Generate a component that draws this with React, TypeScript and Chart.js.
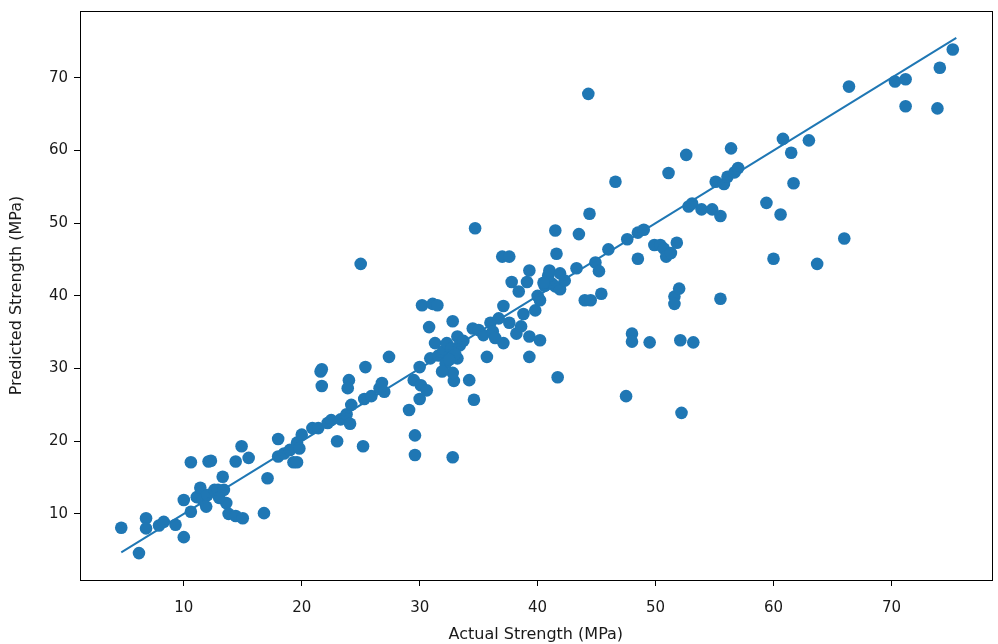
import React, { useEffect, useRef } from "react";
import { Chart, registerables } from "chart.js";

Chart.register(...registerables);

const actual: number[] = [
  4.7, 6.2, 6.8, 6.8, 7.9, 8.3, 9.3, 10.0, 10.0, 10.6, 10.6, 11.1, 11.4, 11.6, 12.0, 12.1, 12.3, 12.6, 12.9, 13.3,
  13.4, 13.6, 13.8, 14.4, 15.0, 14.4, 14.9, 15.5, 16.8, 17.1, 18.0, 18.0, 18.5, 19.0, 19.3, 19.6, 19.6, 20.0, 20.9, 21.4,
  21.6, 21.7, 21.7, 22.2, 22.5, 23.0, 23.3, 23.8, 24.0, 23.9, 24.1, 24.2, 25.0, 25.2, 25.3, 25.4, 25.9, 26.6, 26.8, 27.4,
  29.1, 29.5, 29.6, 29.6, 30.0, 30.0, 30.1, 30.2, 30.6, 30.8, 30.9, 31.1, 31.5, 31.3, 31.6, 32.0, 32.2, 32.3, 32.7, 32.8,
  32.8, 32.9, 32.8, 33.2, 33.2, 33.4, 33.7, 34.2, 34.5, 34.7, 34.6, 35.0, 35.4, 35.7, 36.0, 36.2, 36.7, 37.0, 37.6, 37.1,
  37.1, 37.6, 37.8, 38.2, 38.4, 38.6, 39.1, 39.3, 39.3, 39.3, 39.8, 40.0, 40.2, 40.2, 40.6, 40.9, 41.0, 41.2, 41.5, 41.5,
  41.6, 41.7, 41.9, 41.9, 42.3, 43.3, 43.5, 44.0, 44.3, 44.4, 44.5, 44.9, 45.2, 45.4, 46.0, 46.6, 47.5, 47.6, 48.0, 48.0,
  48.5, 48.5, 49.0, 49.5, 49.9, 50.4, 50.7, 50.9, 51.1, 51.3, 51.6, 51.6, 51.8, 52.0, 52.1, 52.2, 52.6, 52.8, 53.1, 53.2,
  53.9, 54.8, 55.1, 55.5, 55.5, 55.8, 56.1, 56.4, 56.7, 57.0, 59.4, 60.0, 60.6, 60.8, 61.5, 61.7, 63.0, 63.7, 66.0, 66.4,
  70.3, 71.2, 71.2, 74.1, 73.9, 75.2, 11.9, 13.0, 19.8, 33.0, 32.5, 40.5, 38.8, 36.4, 31.9, 27.0
];

const predicted: number[] = [
  8.1, 4.6, 9.4, 8.0, 8.4, 8.9, 8.5, 6.8, 11.9, 17.1, 10.3, 12.3, 13.6, 11.9, 12.6, 17.2, 17.3, 13.3, 13.3, 15.1,
  13.3, 11.5, 10.0, 9.7, 9.4, 17.2, 19.3, 17.7, 10.1, 14.9, 20.3, 17.9, 18.3, 18.8, 17.1, 17.1, 19.8, 20.9, 21.8, 21.8,
  29.6, 29.9, 27.6, 22.5, 22.9, 20.0, 23.0, 23.7, 28.4, 27.3, 22.4, 25.0, 44.4, 19.3, 25.8, 30.2, 26.2, 27.3, 28.0, 31.6,
  24.3, 28.4, 20.8, 18.1, 30.2, 25.8, 27.7, 38.7, 27.0, 35.7, 31.4, 38.9, 38.7, 33.5, 31.8, 32.4, 30.7, 33.5, 32.8, 17.8,
  36.5, 28.3, 29.4, 31.4, 34.4, 33.2, 33.8, 28.4, 35.5, 49.3, 25.7, 35.3, 34.6, 31.6, 36.3, 35.1, 36.9, 45.4, 45.4, 38.6,
  33.5, 36.3, 41.9, 34.8, 40.6, 35.8, 41.9, 43.5, 31.6, 34.4, 38.0, 40.0, 39.4, 33.9, 41.4, 42.8, 43.5, 41.7, 41.3, 49.0,
  45.8, 28.8, 43.1, 40.9, 42.1, 43.8, 48.5, 39.4, 67.8, 51.3, 39.4, 44.6, 43.4, 40.3, 46.4, 55.7, 26.2, 47.8, 34.8, 33.7,
  45.1, 48.7, 49.1, 33.6, 47.0, 47.0, 46.5, 45.4, 56.9, 45.9, 39.9, 38.9, 47.3, 41.0, 33.9, 23.9, 59.4, 52.3, 52.7, 33.6,
  51.9, 51.9, 55.7, 51.0, 39.6, 55.4, 56.4, 60.3, 57.0, 57.6, 52.8, 45.1, 51.2, 61.6, 59.7, 55.5, 61.4, 44.4, 47.9, 68.8,
  69.5, 69.8, 66.1, 71.4, 65.8, 73.9, 11.0, 12.2, 19.0, 32.0, 31.2, 41.8, 37.5, 34.2, 29.6, 26.8
];

const lineEnds: number[] = [4.7, 75.5];
const xTicks: number[] = [10, 20, 30, 40, 50, 60, 70];
const yTicks: number[] = [10, 20, 30, 40, 50, 60, 70];

const FONT = "'DejaVu Sans', sans-serif";

export default function App() {
  const ref = useRef<HTMLCanvasElement | null>(null);

  useEffect(() => {
    document.body.style.margin = "0";
    const canvas = ref.current;
    if (!canvas) return;

    const frame = {
      id: "frame",
      afterDatasetsDraw(chart: any) {
        const { ctx, chartArea } = chart;
        ctx.save();
        ctx.strokeStyle = "#000";
        ctx.lineWidth = 1;
        ctx.strokeRect(
          Math.round(chartArea.left) + 0.5,
          Math.round(chartArea.top) + 0.5,
          Math.round(chartArea.right - chartArea.left),
          Math.round(chartArea.bottom - chartArea.top)
        );
        ctx.restore();
      },
    };

    const chart = new Chart(canvas, {
      type: "scatter",
      data: {
        datasets: [
          {
            type: "line",
            data: lineEnds.map((v) => ({ x: v, y: v })),
            borderColor: "#1f77b4",
            borderWidth: 2,
            pointRadius: 0,
            fill: false,
            order: 0,
          } as any,
          {
            type: "scatter",
            data: actual.map((a, i) => ({ x: a, y: predicted[i] })),
            backgroundColor: "#1f77b4",
            borderWidth: 0,
            pointRadius: 6.3,
            order: 1,
          },
        ],
      },
      options: {
        animation: false,
        responsive: false,
        devicePixelRatio: 1,
        clip: false as any,
        layout: { padding: { top: 11, right: 4, left: 0, bottom: 0 } },
        plugins: {
          legend: { display: false },
          tooltip: { enabled: false },
        },
        scales: {
          x: {
            type: "linear",
            min: 1.2,
            max: 78.5,
            afterBuildTicks: (s: any) => {
              s.ticks = xTicks.map((v) => ({ value: v }));
            },
            afterFit: (s: any) => {
              s.height = 64;
              s.paddingLeft = 0;
              s.paddingRight = 0;
            },
            grid: {
              drawOnChartArea: false,
              drawTicks: true,
              tickLength: 6,
              tickColor: "#000",
              tickWidth: 1,
            },
            border: { display: true, color: "#000", width: 1 },
            ticks: {
              color: "#1a1a1a",
              font: { family: FONT, size: 15 },
              padding: 13,
              maxRotation: 0,
            },
            title: {
              display: true,
              text: "Actual Strength (MPa)",
              color: "#1a1a1a",
              font: { family: FONT, size: 16 },
              padding: { top: 2, bottom: 0 },
            },
          },
          y: {
            type: "linear",
            min: 0.9,
            max: 79.2,
            afterBuildTicks: (s: any) => {
              s.ticks = yTicks.map((v) => ({ value: v }));
            },
            afterFit: (s: any) => {
              s.width = 80;
              s.paddingTop = 0;
              s.paddingBottom = 0;
            },
            grid: {
              drawOnChartArea: false,
              drawTicks: true,
              tickLength: 6,
              tickColor: "#000",
              tickWidth: 1,
            },
            border: { display: true, color: "#000", width: 1 },
            ticks: {
              color: "#1a1a1a",
              font: { family: FONT, size: 15 },
              padding: 6,
            },
            title: {
              display: true,
              text: "Predicted Strength (MPa)",
              color: "#1a1a1a",
              font: { family: FONT, size: 16 },
              padding: { top: 7, bottom: 0 },
            },
          },
        },
      },
      plugins: [frame],
    });

    return () => chart.destroy();
  }, []);

  return (
    <div style={{ position: "absolute", left: 0, top: 0, width: 998, height: 644, background: "#fff" }}>
      <canvas ref={ref} width={998} height={644} style={{ width: 998, height: 644, display: "block" }} />
    </div>
  );
}
